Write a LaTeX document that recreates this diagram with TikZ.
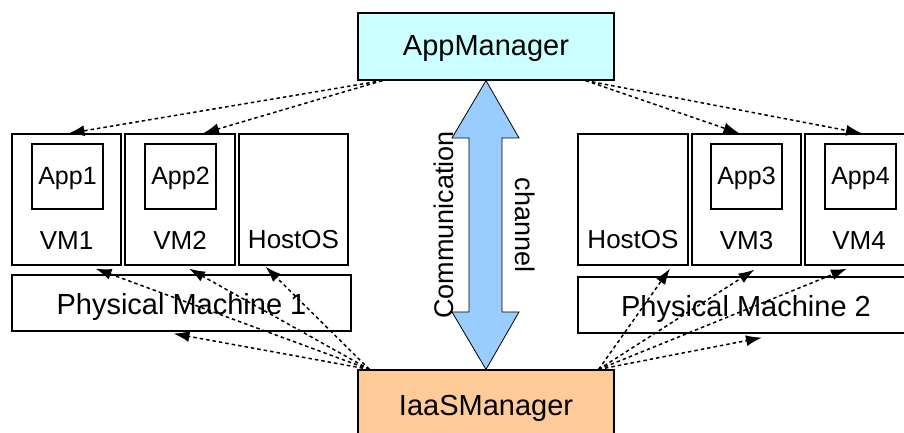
\documentclass[tikz,border=0pt]{standalone}
\usepackage{fontspec}
\setmainfont{Liberation Sans}
\usetikzlibrary{arrows.meta,calc}
\definecolor{amfill}{HTML}{CCFFFF}
\definecolor{iaasfill}{HTML}{FFCC99}
\definecolor{chanfill}{HTML}{99CCFF}
\begin{document}
\begin{tikzpicture}[x=1bp,y=-1bp,
  box/.style={draw=black,line width=1.2bp,inner sep=0pt,rectangle},
  big/.style={font=\fontsize{29bp}{34bp}\selectfont,inner sep=0pt},
  mid/.style={font=\fontsize{26bp}{30bp}\selectfont,inner sep=0pt},
  small/.style={font=\fontsize{25bp}{29bp}\selectfont,inner sep=0pt},
  chan/.style={font=\fontsize{27bp}{31bp}\selectfont,inner sep=0pt},
  dasharrow/.style={draw=black,line width=1.5bp,dash pattern=on 3.5bp off 3bp,
    -{Latex[length=16bp,width=11bp]}}
]
\useasboundingbox (0,0) rectangle (904,433);
% managers
\node[box,fill=amfill,minimum width=256bp,minimum height=67bp] (am) at (486,46.5) {};
\node[big,anchor=base] (amlbl) at (486,56) {AppManager};
\node[box,fill=iaasfill,minimum width=256bp,minimum height=100bp] (iaas) at (486,420) {};
\node[big,anchor=base] (iaaslbl) at (486,415) {IaaSManager};
% left machine
\node[box,minimum width=109bp,minimum height=131bp] (vm1) at (66.5,199.5) {};
\node[box,minimum width=110bp,minimum height=131bp] (vm2) at (180,199.5) {};
\node[box,minimum width=109bp,minimum height=131bp] (hos1) at (293.5,199.5) {};
\node[box,minimum width=71bp,minimum height=65bp] (app1) at (67.5,176.5) {};
\node[box,minimum width=71bp,minimum height=65bp] (app2) at (180.5,176.5) {};
\node[small,anchor=base] (app1lbl) at (67.5,185) {App1};
\node[small,anchor=base] (app2lbl) at (180.5,185) {App2};
\node[mid,anchor=base] (vm1lbl) at (66.5,250) {VM1};
\node[mid,anchor=base] (vm2lbl) at (180,250) {VM2};
\node[mid,anchor=base] (hos1lbl) at (293.5,249) {HostOS};
\node[box,minimum width=339bp,minimum height=56bp] (pm1) at (181.5,303) {};
\node[big,anchor=base] (pm1lbl) at (181.5,315) {Physical Machine 1};
% right machine
\node[box,minimum width=110bp,minimum height=131bp] (hos2) at (633,199.5) {};
\node[box,minimum width=109bp,minimum height=131bp] (vm3) at (746.5,199.5) {};
\node[box,minimum width=110bp,minimum height=131bp] (vm4) at (860,199.5) {};
\node[box,minimum width=71bp,minimum height=65bp] (app3) at (746.5,176.5) {};
\node[box,minimum width=71bp,minimum height=65bp] (app4) at (860.5,176.5) {};
\node[small,anchor=base] (app3lbl) at (746.5,185) {App3};
\node[small,anchor=base] (app4lbl) at (860.5,185) {App4};
\node[mid,anchor=base] (hos2lbl) at (633,249) {HostOS};
\node[mid,anchor=base] (vm3lbl) at (746.5,250) {VM3};
\node[mid,anchor=base] (vm4lbl) at (859,250) {VM4};
\node[box,minimum width=340bp,minimum height=56bp] (pm2) at (748,305) {};
\node[big,anchor=base] (pm2lbl) at (746,317) {Physical Machine 2};
% communication channel
\draw[fill=chanfill,line width=0.8bp]
  (am.south) -- (519,138) -- (502,138) -- (502,312) -- (519,312) -- (iaas.north)
  -- (452,312) -- (469,312) -- (469,138) -- (452,138) -- cycle;
\node[chan,rotate=90,anchor=base] (comm) at (453,225) {Communication};
\node[chan,rotate=-90,anchor=base] (chanlbl) at (515,225) {channel};
% connector end points
\coordinate (amL) at ($(am.south west)+(25,0)$);
\coordinate (amR) at ($(am.south east)+(-29,0)$);
\coordinate (iaL) at ($(iaas.north west)+(12,0)$);
\coordinate (iaR) at ($(iaas.north east)+(-16,0)$);
\coordinate (t1) at ($(vm1.north)+(2,0)$);
\coordinate (t2) at ($(vm2.north)+(23,0)$);
\coordinate (t3) at ($(vm3.north)+(-7,0)$);
\coordinate (t4) at ($(vm4.north)+(2,0)$);
\coordinate (b1) at ($(vm1.south)+(29,3)$);
\coordinate (b2) at ($(vm2.south)+(9,3)$);
\coordinate (b3) at ($(hos1.south)+(-28,1)$);
\coordinate (b4) at ($(pm1.south)+(-8,2)$);
\coordinate (b5) at ($(hos2.south)+(37,3)$);
\coordinate (b6) at ($(vm3.south)+(8,4)$);
\coordinate (b7) at ($(vm4.south)+(-13,3)$);
\coordinate (b8) at ($(pm2.south)+(14,4)$);
% dashed connectors
\draw[dasharrow] (amL) -- (t1);
\draw[dasharrow] (amL) -- (t2);
\draw[dasharrow] (amR) -- (t3);
\draw[dasharrow] (amR) -- (t4);
\draw[dasharrow] (iaL) -- (b1);
\draw[dasharrow] (iaL) -- (b2);
\draw[dasharrow] (iaL) -- (b3);
\draw[dasharrow] (iaL) -- (b4);
\draw[dasharrow] (iaR) -- (b5);
\draw[dasharrow] (iaR) -- (b6);
\draw[dasharrow] (iaR) -- (b7);
\draw[dasharrow] (iaR) -- (b8);
\end{tikzpicture}
\end{document}
